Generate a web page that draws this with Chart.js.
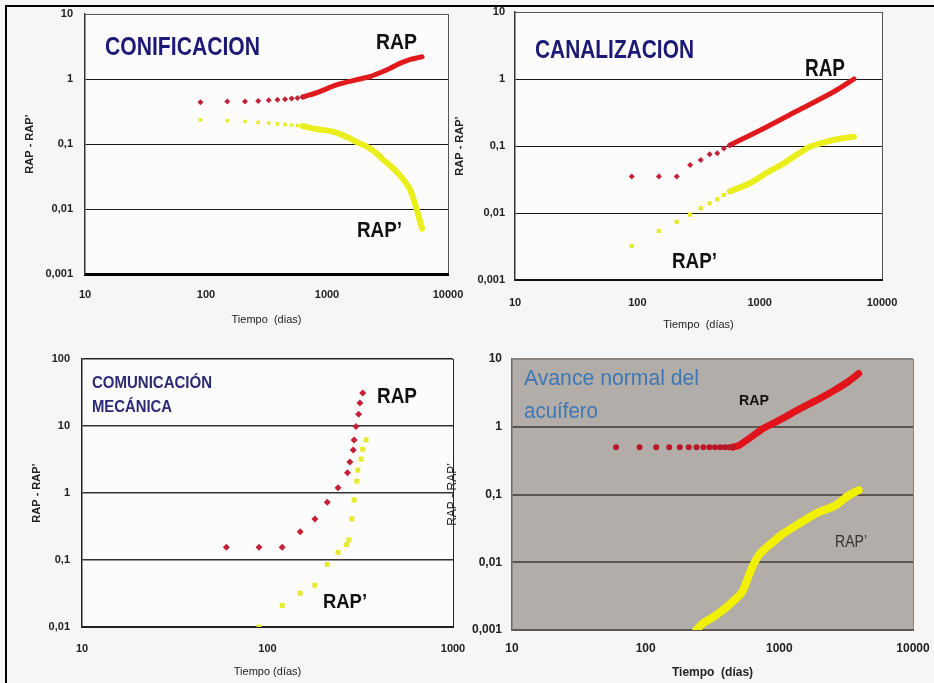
<!DOCTYPE html>
<html>
<head>
<meta charset="utf-8">
<script src="https://cdn.jsdelivr.net/npm/chart.js@4.4.1/dist/chart.umd.min.js"></script>
<style>
  body { margin: 0; background: #f6f6f6; width: 934px; height: 683px; overflow: hidden; position: relative; }
  #marco { position: absolute; left: 5px; top: 5px; width: 929px; height: 678px; border-top: 2px solid #000; border-left: 2px solid #000; }
  canvas { position: absolute; }
</style>
</head>
<body>
<div id="marco"></div>
<canvas id="graficoConif" width="480" height="334" style="left:8px;top:6px"></canvas>
<canvas id="graficoCanal" width="494" height="334" style="left:440px;top:6px"></canvas>
<canvas id="graficoComun" width="480" height="341" style="left:8px;top:342px"></canvas>
<canvas id="graficoAvance" width="494" height="341" style="left:440px;top:342px"></canvas>
<script>
// Ejes =====================================================================

const xTicks = [10, 100, 1000, 10000];
const xTicksComun = [10, 100, 1000];
const yTicks = [0.001, 0.01, 0.1, 1, 10];
const yLabels = ["0,001", "0,01", "0,1", "1", "10"];
const yTicksComun = [0.01, 0.1, 1, 10, 100];
const yLabelsComun = ["0,01", "0,1", "1", "10", "100"];

// Gráfico 1: conificación ==================================================

const conifRapT = [90, 150, 210, 270, 330, 390, 450, 510, 570, 630];
const conifRapV = [0.44, 0.45, 0.45, 0.46, 0.47, 0.48, 0.49, 0.5, 0.51, 0.53];
const conifRapBandaT = [630, 720, 850, 1000, 1120, 1400, 1870, 2300, 2750, 3300, 4000, 4900, 5500, 6100];
const conifRapBandaV = [0.53, 0.57, 0.63, 0.71, 0.78, 0.88, 1.0, 1.1, 1.25, 1.45, 1.74, 2.0, 2.1, 2.2];
const conifDerT = [90, 150, 210, 270, 330, 390, 450, 510, 570, 630];
const conifDerV = [0.235, 0.228, 0.222, 0.216, 0.21, 0.205, 0.2, 0.196, 0.192, 0.188];
const conifDerBandaT = [630, 820, 1120, 1550, 1800, 2130, 2500, 2920, 3400, 4000, 4500, 4880, 5200, 5500, 5800, 6100];
const conifDerBandaV = [0.188, 0.17, 0.155, 0.122, 0.105, 0.091, 0.075, 0.057, 0.045, 0.033, 0.025, 0.0196, 0.014, 0.01, 0.007, 0.005];

// Gráfico 2: canalización ==================================================

const canalRapT = [90, 150, 210, 270, 330, 390, 450, 510, 570];
const canalRapV = [0.035, 0.035, 0.035, 0.052, 0.062, 0.075, 0.078, 0.092, 0.103];
const canalRapBandaT = [570, 1000, 2000, 4000, 5900];
const canalRapBandaV = [0.103, 0.17, 0.33, 0.64, 1.0];
const canalDerT = [90, 150, 210, 270, 330, 390, 450, 510, 570];
const canalDerV = [0.0032, 0.0054, 0.0074, 0.0095, 0.0118, 0.014, 0.016, 0.0186, 0.021];
const canalDerBandaT = [570, 840, 1150, 1575, 2100, 2600, 3550, 4500, 5900];
const canalDerBandaV = [0.021, 0.028, 0.04, 0.055, 0.078, 0.098, 0.116, 0.128, 0.138];

// Gráfico 3: comunicación mecánica =========================================

const comunRapT = [60, 90, 120, 150, 180, 210, 240, 270, 278, 290, 293, 300, 310, 315, 326];
const comunRapV = [0.155, 0.155, 0.155, 0.264, 0.41, 0.73, 1.2, 2.0, 2.9, 4.4, 6.2, 9.8, 15, 22, 31];
const comunDerT = [90, 120, 150, 180, 210, 240, 267, 275, 285, 293, 303, 307, 320, 326, 340];
const comunDerV = [0.01, 0.021, 0.032, 0.042, 0.086, 0.13, 0.17, 0.2, 0.41, 0.79, 1.5, 2.2, 3.2, 4.5, 6.2];

// Gráfico 4: avance normal del acuífero ====================================

const avanceRapT = [60, 90, 120, 150, 180, 210, 240, 270, 300, 330, 360, 390, 420, 450];
const avanceRapV = [0.5, 0.5, 0.5, 0.5, 0.5, 0.5, 0.5, 0.5, 0.5, 0.5, 0.5, 0.5, 0.5, 0.5];
const avanceRapBandaT = [450, 500, 600, 762, 1000, 1433, 2000, 2550, 3200, 3920];
const avanceRapBandaV = [0.5, 0.53, 0.68, 0.95, 1.25, 1.85, 2.6, 3.4, 4.5, 6.1];
const avanceDerBandaT = [239, 272, 323, 405, 482, 525, 560, 605, 650, 720, 900, 1077, 1400, 1910, 2600, 3200, 3920];
const avanceDerBandaV = [0.001, 0.00128, 0.00157, 0.0022, 0.003, 0.0036, 0.0048, 0.0072, 0.0098, 0.0135, 0.02, 0.0267, 0.037, 0.053, 0.068, 0.093, 0.116];

// Plugins ==================================================================

const plotBg = {
  id: "plotBg",
  beforeDraw(chart, args, opts) {
    const { ctx, chartArea: a } = chart;
    ctx.save();
    ctx.fillStyle = opts.color;
    ctx.fillRect(a.left, a.top, a.right - a.left, a.bottom - a.top);
    ctx.restore();
  },
};

const notas = {
  id: "notas",
  afterDatasetsDraw(chart, args, opts) {
    const { ctx, chartArea } = chart;
    (opts.items || []).forEach((n) => {
      ctx.save();
      ctx.font = n.font;
      ctx.fillStyle = n.color;
      ctx.textBaseline = "alphabetic";
      const w = ctx.measureText(n.text).width;
      ctx.translate(chartArea.left + n.dx, chartArea.top + n.dy);
      ctx.scale(n.width / w, 1);
      ctx.fillText(n.text, 0, 0);
      ctx.restore();
    });
  },
};

// Helpers ==================================================================

const pts = (t, v) => t.map((x, i) => ({ x: x, y: v[i] }));

function marcas(t, v, color, style, r) {
  return { data: pts(t, v), showLine: false, pointStyle: style, pointRadius: r, backgroundColor: color, borderWidth: 0 };
}

function banda(t, v, color, w) {
  return {
    data: pts(t, v),
    showLine: true,
    pointRadius: 0,
    borderColor: color,
    borderWidth: w,
    tension: 0.3,
    borderCapStyle: "round",
    borderJoinStyle: "round",
  };
}

function grafico(id, p) {
  const lastX = p.xTicks.length - 1;
  const yMax = p.yTicks[p.yTicks.length - 1];
  return new Chart(document.getElementById(id), {
    type: "scatter",
    data: { datasets: p.datasets },
    options: {
      responsive: false,
      animation: false,
      devicePixelRatio: 1,
      layout: { padding: { top: p.padTop, right: p.padRight, bottom: 0, left: 0 } },
      plugins: {
        legend: { display: false },
        tooltip: { enabled: false },
        plotBg: { color: p.bg },
        notas: { items: p.notas },
      },
      scales: {
        x: {
          type: "logarithmic",
          min: p.xTicks[0],
          max: p.xTicks[lastX],
          afterBuildTicks: (s) => { s.ticks = p.xTicks.map((v) => ({ value: v })); },
          afterFit: (s) => { s.height = p.xHeight; s.paddingLeft = 0; s.paddingRight = 0; },
          ticks: { autoSkip: false, maxRotation: 0, padding: p.xTickPad, color: "#222", font: p.tickFont, callback: (v) => String(v) },
          grid: { drawTicks: false, color: (c) => (c.index === lastX ? p.frame : "transparent"), lineWidth: 1 },
          border: { color: p.xBorder, width: p.xBorderWidth },
          title: { display: true, text: p.xTitle, color: "#222", font: p.xTitleFont, padding: { top: 0, bottom: p.xTitlePad } },
        },
        y: {
          type: "logarithmic",
          min: p.yTicks[0],
          max: yMax,
          afterBuildTicks: (s) => { s.ticks = p.yTicks.map((v) => ({ value: v })); },
          afterFit: (s) => { s.width = p.yWidth; s.paddingTop = 0; s.paddingBottom = 0; },
          ticks: { padding: p.yTickPad, color: "#222", font: p.tickFont, callback: (v) => p.yLabels[p.yTicks.indexOf(v)] },
          grid: { drawTicks: false, color: (c) => (c.tick.value === yMax ? p.frame : p.grid), lineWidth: p.gridWidth },
          border: { color: p.yBorder, width: 1.5 },
          title: { display: true, text: "RAP - RAP’", color: "#222", font: p.yTitleFont, padding: { top: p.yTitlePad, bottom: 0 } },
        },
      },
    },
    plugins: [plotBg, notas],
  });
}

const fuenteTick = { family: "Liberation Sans", size: 11, weight: "bold" };
const fuenteTitulo = { family: "Liberation Sans", size: 11 };
const fuenteYTitulo = { family: "Liberation Sans", size: 11, weight: "bold" };
const rojo = "#c42036";
const rojoBanda = "#e01a1c";
const amarillo = "#e6ec2c";
const amarilloBanda = "#eaef1c";

// Gráficos =================================================================

const graficoConif = grafico("graficoConif", {
  xTicks: xTicks, yTicks: yTicks, yLabels: yLabels,
  padTop: 8, padRight: 40, yWidth: 77, xHeight: 66,
  xTickPad: 14, yTickPad: 12, xTitlePad: 13.4, yTitlePad: 15.4,
  tickFont: fuenteTick, xTitleFont: fuenteTitulo, yTitleFont: fuenteYTitulo,
  xTitle: "Tiempo  (dias)",
  bg: "#fcfcfc", frame: "#555", grid: "#1a1a1a", gridWidth: 1,
  yBorder: "#333", xBorder: "#000", xBorderWidth: 3,
  datasets: [
    marcas(conifDerT, conifDerV, amarillo, "rect", 2.5),
    banda(conifDerBandaT, conifDerBandaV, amarilloBanda, 6),
    marcas(conifRapT, conifRapV, rojo, "rectRot", 3),
    banda(conifRapBandaT, conifRapBandaV, rojoBanda, 5),
  ],
  notas: [
    { text: "CONIFICACION", dx: 20, dy: 41, width: 155, font: "bold 25px 'Liberation Sans'", color: "#1c1a74" },
    { text: "RAP", dx: 291, dy: 35, width: 41, font: "bold 22px 'Liberation Sans'", color: "#111" },
    { text: "RAP’", dx: 272, dy: 223, width: 45, font: "bold 22px 'Liberation Sans'", color: "#111" },
  ],
});

const graficoCanal = grafico("graficoCanal", {
  xTicks: xTicks, yTicks: yTicks, yLabels: yLabels,
  padTop: 6, padRight: 52, yWidth: 75, xHeight: 60,
  xTickPad: 16, yTickPad: 10, xTitlePad: 8.4, yTitlePad: 13.4,
  tickFont: fuenteTick, xTitleFont: fuenteTitulo, yTitleFont: fuenteYTitulo,
  xTitle: "Tiempo  (días)",
  bg: "#fcfcfc", frame: "#555", grid: "#1a1a1a", gridWidth: 1,
  yBorder: "#333", xBorder: "#111", xBorderWidth: 2,
  datasets: [
    marcas(canalDerT, canalDerV, amarillo, "rect", 3),
    banda(canalDerBandaT, canalDerBandaV, amarilloBanda, 6),
    marcas(canalRapT, canalRapV, rojo, "rectRot", 3),
    banda(canalRapBandaT, canalRapBandaV, rojoBanda, 5),
  ],
  notas: [
    { text: "CANALIZACION", dx: 20, dy: 46, width: 159, font: "bold 26px 'Liberation Sans'", color: "#1c1a74" },
    { text: "RAP", dx: 290, dy: 64, width: 40, font: "bold 23px 'Liberation Sans'", color: "#111" },
    { text: "RAP’", dx: 157, dy: 256, width: 45, font: "bold 22px 'Liberation Sans'", color: "#111" },
  ],
});

const graficoComun = grafico("graficoComun", {
  xTicks: xTicksComun, yTicks: yTicksComun, yLabels: yLabelsComun,
  padTop: 17, padRight: 35, yWidth: 74, xHeight: 56,
  xTickPad: 15, yTickPad: 12, xTitlePad: 4.4, yTitlePad: 22.4,
  tickFont: fuenteTick, xTitleFont: fuenteTitulo, yTitleFont: fuenteYTitulo,
  xTitle: "Tiempo (días)",
  bg: "#fcfcfc", frame: "#222", grid: "#333", gridWidth: 1.5,
  yBorder: "#222", xBorder: "#222", xBorderWidth: 2,
  datasets: [
    marcas(comunDerT, comunDerV, amarillo, "rect", 3.5),
    marcas(comunRapT, comunRapV, rojo, "rectRot", 3.5),
  ],
  notas: [
    { text: "COMUNICACIÓN", dx: 10, dy: 29, width: 120, font: "bold 17px 'Liberation Sans'", color: "#2b2a72" },
    { text: "MECÁNICA", dx: 10, dy: 53, width: 80, font: "bold 17px 'Liberation Sans'", color: "#2b2a72" },
    { text: "RAP", dx: 295, dy: 44, width: 40, font: "bold 22px 'Liberation Sans'", color: "#111" },
    { text: "RAP’", dx: 241, dy: 249, width: 44, font: "bold 20px 'Liberation Sans'", color: "#111" },
  ],
});

const graficoAvance = grafico("graficoAvance", {
  xTicks: xTicks, yTicks: yTicks, yLabels: yLabels,
  padTop: 17, padRight: 21, yWidth: 72, xHeight: 53,
  xTickPad: 11, yTickPad: 10, xTitlePad: 2.8, yTitlePad: 5.4,
  tickFont: { family: "Liberation Sans", size: 12, weight: "bold" },
  xTitleFont: { family: "Liberation Sans", size: 12, weight: "bold" },
  yTitleFont: { family: "Liberation Sans", size: 12 },
  xTitle: "Tiempo  (días)",
  bg: "#b3ada9", frame: "#8a8480", grid: "#5b5652", gridWidth: 2,
  yBorder: "#6e6864", xBorder: "#5e5955", xBorderWidth: 2,
  datasets: [
    banda(avanceDerBandaT, avanceDerBandaV, "#f2f200", 8),
    marcas(avanceRapT, avanceRapV, "#b8182a", "circle", 3),
    banda(avanceRapBandaT, avanceRapBandaV, "#e0141a", 7),
  ],
  notas: [
    { text: "Avance normal del", dx: 12, dy: 26, width: 175, font: "22px 'Liberation Sans'", color: "#3d78b5" },
    { text: "acuífero", dx: 12, dy: 59, width: 74, font: "22px 'Liberation Sans'", color: "#3d78b5" },
    { text: "RAP", dx: 227, dy: 46, width: 30, font: "bold 14px 'Liberation Sans'", color: "#111" },
    { text: "RAP’", dx: 323, dy: 188, width: 32, font: "17px 'Liberation Sans'", color: "#333" },
  ],
});
</script>
</body>
</html>
